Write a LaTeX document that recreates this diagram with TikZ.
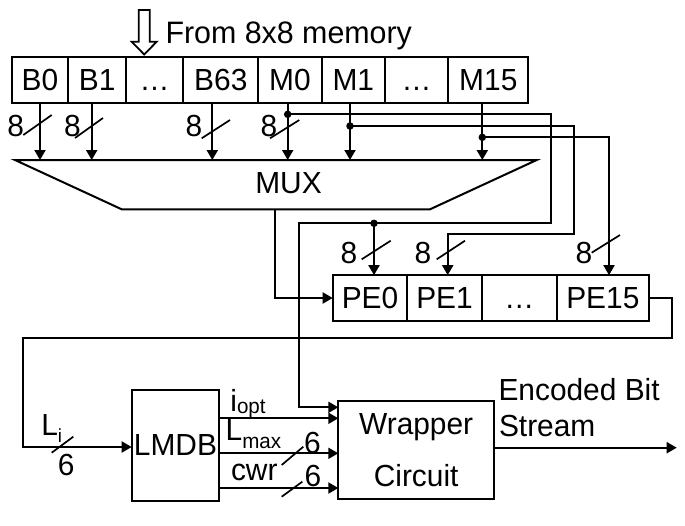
\documentclass[tikz,border=0pt]{standalone}
\usepackage{fontspec}
\setmainfont{Liberation Sans}[FakeStretch=0.98]
\usetikzlibrary{arrows.meta}
\newcommand\fsA{\fontsize{30.5}{35}\selectfont}
\newcommand\fsB{\fontsize{21}{23}\selectfont}
\newcommand\fsC{\fontsize{19}{21}\selectfont}
\newcommand\cl[1]{\vphantom{B0}#1}
\tikzset{
  cell/.style={draw, line width=2pt, inner sep=0pt, outer sep=0pt, minimum height=45.5pt, anchor=west, font=\fsA},
  pecell/.style={cell, minimum height=45.7pt},
  blk/.style={draw, line width=2pt, inner sep=0pt, outer sep=0pt, font=\fsA},
  wire/.style={line width=2pt},
  arr/.style={line width=2pt, -{Triangle[length=10pt,width=11pt]}},
  jdot/.style={circle, fill=black, inner sep=0pt, minimum size=7.5pt},
  lbl/.style={inner sep=0pt, outer sep=0pt, font=\fsA},
  bw/.style={lbl, anchor=base west},
  slashln/.style={line width=1.7pt},
}
\begin{document}
\begin{tikzpicture}[x=1pt,y=-1pt]
\useasboundingbox (0,0) rectangle (685,525);
\fill[white] (0,0) rectangle (685,525);

% hollow input arrow and title
\draw[line width=1.8pt, line join=miter] (138.7,10) -- (149.7,10) -- (149.7,41.7) -- (156.7,41.7) -- (144.2,54.5) -- (131.7,41.7) -- (138.7,41.7) -- cycle;
\node[bw, font=\fontsize{31}{35}\selectfont] (title) at (165.5,43) {From 8x8 memory};

% top register row
\node[cell, minimum width=56.6pt] (B0) at (11.7,80) {\cl{B0}};
\node[cell, minimum width=57.7pt] (B1) at (68.3,80) {\cl{B1}};
\node[cell, minimum width=57.3pt] (Bd) at (126,80) {\cl{…}};
\node[cell, minimum width=75pt]   (B63) at (183.3,80) {\cl{B63}};
\node[cell, minimum width=63.4pt] (M0) at (258.3,80) {\cl{M0}};
\node[cell, minimum width=63.3pt] (M1) at (321.7,80) {\cl{M1}};
\node[cell, minimum width=63.3pt] (Md) at (385,80) {\cl{…}};
\node[cell, minimum width=80pt]   (M15) at (448.3,80) {\cl{M15}};

% MUX
\node[inner sep=0pt, outer sep=0pt, minimum width=521.7pt, minimum height=49.3pt] (mux) at (275.85,184.65) {};
\draw[line width=2pt, line join=miter] (mux.north west) -- (mux.north east) -- ([xshift=-106.7pt]mux.south east) -- ([xshift=106.7pt]mux.south west) -- cycle;
\node[lbl] (muxl) at (288.5,183) {MUX};

% x positions of the input arrows
\coordinate (xb0) at (40,0);
\coordinate (xb1) at (91.7,0);
\coordinate (xb63) at (212.3,0);
\coordinate (xm0) at (287.7,0);
\coordinate (xm1) at (350,0);
\coordinate (xm15) at (482.3,0);
\foreach \c/\x in {B0/xb0, B1/xb1, B63/xb63, M0/xm0, M1/xm1, M15/xm15}{
  \draw[arr] (\c.south -| \x) -- (mux.north -| \x);
}

% width labels on the MUX inputs
\node[lbl] (w1) at (15.8,126) {8};
\node[lbl] (w2) at (72.5,126) {8};
\node[lbl] (w3) at (194,126) {8};
\node[lbl] (w4) at (269,126) {8};
\draw[slashln] (23.3,135) -- (51.7,115);
\draw[slashln] (75,138) -- (103,118);
\draw[slashln] (201.7,138.3) -- (230,120);
\draw[slashln] (270,138.3) -- (299.3,120);

% PE row
\node[pecell, minimum width=74.6pt] (PE0) at (332.7,298) {\cl{PE0}};
\node[pecell, minimum width=74.4pt] (PE1) at (407.3,298) {\cl{PE1}};
\node[pecell, minimum width=75pt]   (PEd) at (481.7,298) {\cl{…}};
\node[pecell, minimum width=92.3pt] (PE15) at (556.7,298) {\cl{PE15}};

% junction dots
\node[jdot] (d0) at (287.7,114.3) {};
\node[jdot] (d1) at (350,126) {};
\node[jdot] (d2) at (482.3,137.3) {};
\node[jdot] (d3) at (374,223.3) {};

% lower blocks
\node[blk, minimum width=87.6pt, minimum height=111pt] (LM) at (175.5,445.5) {LMDB};
\node[blk, minimum width=155.7pt, minimum height=98.3pt, align=center, font=\fontsize{30.5}{51.5}\selectfont] (W) at (416.15,450.15) {Wrapper\\Circuit};

% routing coordinates
\coordinate (k0) at (551,223.3);
\coordinate (k1) at (299,407.3);
\coordinate (k2) at (574,234.3);
\coordinate (xpe1) at (447.7,0);
\coordinate (xpe15) at (609,0);
\coordinate (k4) at (671.7,337.5);
\coordinate (k5) at (22.7,447);
\coordinate (yio) at (0,418.3);
\coordinate (ylm) at (0,453.3);
\coordinate (ycw) at (0,488);
\coordinate (out) at (676.7,447.7);

% M taps
\draw[arr] (d0.center) -| (k0) -| (k1) -- (W.west |- k1);
\draw[arr] (d3.center) -- (PE0.north -| d3);
\draw[arr] (d1.center) -| (k2) -| (PE1.north -| xpe1);
\draw[arr] (d2.center) -| (PE15.north -| xpe15);

% MUX output to PE row
\draw[arr] (mux.south -| 275,0) |- (PE0.west);

% width labels on PE inputs
\node[lbl] (w5) at (349,253.3) {8};
\node[lbl] (w6) at (423,253.3) {8};
\node[lbl] (w7) at (584,253.3) {8};
\draw[slashln] (361.7,259.3) -- (390.7,240.7);
\draw[slashln] (436.7,259.3) -- (465,240.7);
\draw[slashln] (591.7,252.7) -- (620,235);

% feedback to LMDB
\draw[arr] (PE15.east) -| (k4) -| (k5) -- (LM.west |- k5);
\node[bw] (li) at (41.3,435) {L\raisebox{-7.7pt}{\fsC i}};
\draw[slashln] (51.7,452.7) -- (73.3,436.7);
\node[lbl] (li6) at (66.2,464.5) {6};

% LMDB to wrapper
\draw[arr] (LM.east |- yio) -- (W.west |- yio);
\draw[arr] (LM.east |- ylm) -- (W.west |- ylm);
\draw[arr] (LM.east |- ycw) -- (W.west |- ycw);
\node[bw] (iopt) at (230.4,411.7) {i\raisebox{-1.8pt}{\fsB opt}};
\node[bw] (lmax) at (225.7,440) {L\raisebox{-8pt}{\fsB max}};
\node[bw] (cwr) at (231,480) {cwr};
\draw[slashln] (281.7,465) -- (303.3,446.7);
\draw[slashln] (281.7,496.7) -- (302.3,481.7);
\node[bw] (six1) at (304,453.3) {6};
\node[bw] (six2) at (304.7,486.7) {6};

% output
\draw[arr] (W.east |- out) -- (out);
\node[bw] (enc1) at (498.5,400) {Encoded Bit};
\node[bw] (enc2) at (499,436.7) {Stream};
\end{tikzpicture}
\end{document}
